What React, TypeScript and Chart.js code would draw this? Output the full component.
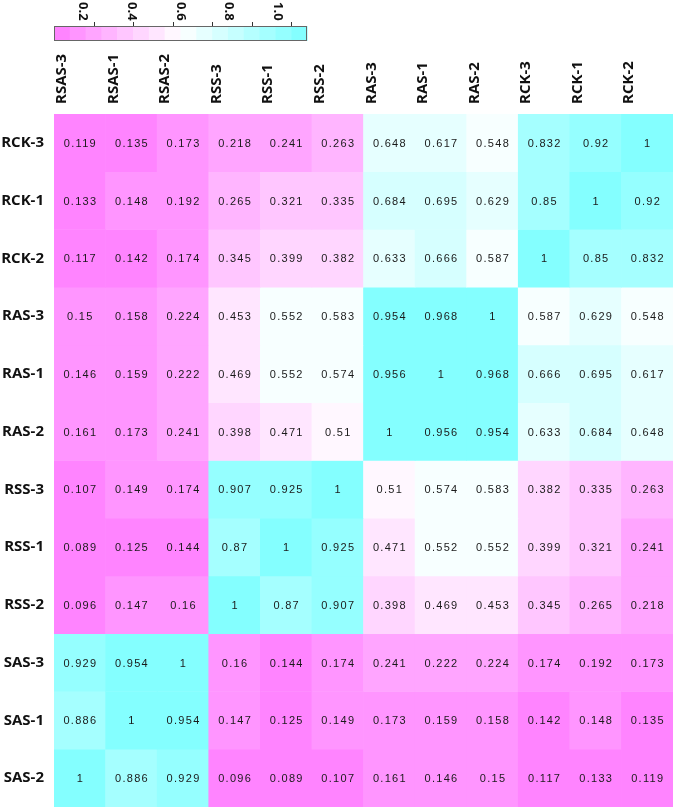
import React, { useEffect, useRef } from "react";
import { Chart, registerables } from "chart.js";
Chart.register(...registerables);

const columnLabels = ["RSAS-3", "RSAS-1", "RSAS-2", "RSS-3", "RSS-1", "RSS-2", "RAS-3", "RAS-1", "RAS-2", "RCK-3", "RCK-1", "RCK-2"];
const rowLabels = ["RCK-3", "RCK-1", "RCK-2", "RAS-3", "RAS-1", "RAS-2", "RSS-3", "RSS-1", "RSS-2", "SAS-3", "SAS-1", "SAS-2"];

const rowRCK3 = [0.119, 0.135, 0.173, 0.218, 0.241, 0.263, 0.648, 0.617, 0.548, 0.832, 0.92, 1];
const rowRCK1 = [0.133, 0.148, 0.192, 0.265, 0.321, 0.335, 0.684, 0.695, 0.629, 0.85, 1, 0.92];
const rowRCK2 = [0.117, 0.142, 0.174, 0.345, 0.399, 0.382, 0.633, 0.666, 0.587, 1, 0.85, 0.832];
const rowRAS3 = [0.15, 0.158, 0.224, 0.453, 0.552, 0.583, 0.954, 0.968, 1, 0.587, 0.629, 0.548];
const rowRAS1 = [0.146, 0.159, 0.222, 0.469, 0.552, 0.574, 0.956, 1, 0.968, 0.666, 0.695, 0.617];
const rowRAS2 = [0.161, 0.173, 0.241, 0.398, 0.471, 0.51, 1, 0.956, 0.954, 0.633, 0.684, 0.648];
const rowRSS3 = [0.107, 0.149, 0.174, 0.907, 0.925, 1, 0.51, 0.574, 0.583, 0.382, 0.335, 0.263];
const rowRSS1 = [0.089, 0.125, 0.144, 0.87, 1, 0.925, 0.471, 0.552, 0.552, 0.399, 0.321, 0.241];
const rowRSS2 = [0.096, 0.147, 0.16, 1, 0.87, 0.907, 0.398, 0.469, 0.453, 0.345, 0.265, 0.218];
const rowSAS3 = [0.929, 0.954, 1, 0.16, 0.144, 0.174, 0.241, 0.222, 0.224, 0.174, 0.192, 0.173];
const rowSAS1 = [0.886, 1, 0.954, 0.147, 0.125, 0.149, 0.173, 0.159, 0.158, 0.142, 0.148, 0.135];
const rowSAS2 = [1, 0.886, 0.929, 0.096, 0.089, 0.107, 0.161, 0.146, 0.15, 0.117, 0.133, 0.119];

const matrix = [rowRCK3, rowRCK1, rowRCK2, rowRAS3, rowRAS1, rowRAS2, rowRSS3, rowRSS1, rowRSS2, rowSAS3, rowSAS1, rowSAS2];

const colorbarTickLabels = ["0.2", "0.4", "0.6", "0.8", "1.0"];
const colorbarTickValues = [0.2, 0.4, 0.6, 0.8, 1.0];
const colorMin = 0.089;
const colorMax = 1;
const colorBins = 16;
const colorbarLabelMin = 0.08;
const colorbarLabelMax = 1.12;

function binColor(bin: number): string {
  const tc = (bin + 0.5) / colorBins;
  if (tc < 0.5) {
    const g = Math.round(124 + 262 * tc);
    return `rgb(255,${g},255)`;
  }
  const r = Math.round(255 - 262 * (tc - 0.5));
  return `rgb(${r},255,255)`;
}

function colorFor(v: number): string {
  let t = (v - colorMin) / (colorMax - colorMin);
  t = Math.max(0, Math.min(1, t));
  const bin = Math.min(colorBins - 1, Math.floor(t * colorBins));
  return binColor(bin);
}

const cellLabelPlugin = {
  id: "cellLabels",
  afterDatasetsDraw(chart: any) {
    const ctx = chart.ctx;
    ctx.save();
    ctx.font = "11px 'Liberation Sans', Arial, sans-serif";
    (ctx as any).letterSpacing = "1.3px";
    ctx.fillStyle = "#1a1a1a";
    ctx.textAlign = "center";
    ctx.textBaseline = "middle";
    chart.data.datasets.forEach((ds: any, i: number) => {
      const meta = chart.getDatasetMeta(i);
      meta.data.forEach((bar: any, j: number) => {
        const p = bar.getCenterPoint();
        ctx.fillText(String(matrix[i][j]), p.x + 0.6, p.y + 1);
      });
    });
    ctx.restore();
  },
};

const colorbarPlugin = {
  id: "colorbar",
  afterDraw(chart: any) {
    const ctx = chart.ctx;
    const left = chart.chartArea.left;
    const width = 253;
    const top = 26;
    const height = 15;
    ctx.save();
    const bw = width / colorBins;
    for (let b = 0; b < colorBins; b++) {
      ctx.fillStyle = binColor(b);
      ctx.fillRect(left + b * bw, top, bw + 0.5, height);
    }
    ctx.strokeStyle = "#666";
    ctx.lineWidth = 1;
    ctx.strokeRect(left + 0.5, top + 0.5, width - 1, height - 1);
    ctx.strokeStyle = "#333";
    for (let k = 1; k <= 6; k++) {
      const x = Math.round(left + k * 2.5 * bw) + 0.5;
      ctx.beginPath();
      ctx.moveTo(x, top - 4);
      ctx.lineTo(x, top);
      ctx.stroke();
    }
    ctx.fillStyle = "#111";
    ctx.font = "bold 13px 'Open Sans', Arial, sans-serif";
    ctx.textAlign = "left";
    ctx.textBaseline = "middle";
    colorbarTickValues.forEach((v, i) => {
      const x = left + ((v - colorbarLabelMin) / (colorbarLabelMax - colorbarLabelMin)) * width;
      ctx.save();
      ctx.translate(x, 2);
      ctx.rotate(Math.PI / 2);
      ctx.fillText(colorbarTickLabels[i], 0, 0);
      ctx.restore();
    });
    ctx.restore();
  },
};

export default function App() {
  const canvasRef = useRef<HTMLCanvasElement | null>(null);

  useEffect(() => {
    if (!canvasRef.current) return;
    const datasets = matrix.map((row, i) => ({
      label: rowLabels[i],
      data: row.map(() => [i, i + 1]),
      backgroundColor: row.map((v) => colorFor(v)),
      borderWidth: 0,
      barPercentage: 1,
      categoryPercentage: 1,
    }));
    const chart = new Chart(canvasRef.current, {
      type: "bar",
      data: { labels: columnLabels, datasets: datasets as any },
      plugins: [cellLabelPlugin, colorbarPlugin],
      options: {
        animation: false,
        responsive: true,
        maintainAspectRatio: false,
        layout: { padding: { left: 0, top: 0, right: 2, bottom: 2 } },
        plugins: { legend: { display: false }, tooltip: { enabled: false } },
        scales: {
          x: {
            type: "category",
            position: "top",
            stacked: true,
            offset: true,
            grid: { display: false, drawTicks: false },
            border: { display: false },
            ticks: {
              autoSkip: false,
              minRotation: 90,
              maxRotation: 90,
              padding: 10,
              color: "#111",
              font: { family: "'Open Sans', sans-serif", size: 15, weight: "bold" },
            },
            afterFit: (axis: any) => {
              axis.height = 114;
              axis.paddingLeft = 0;
              axis.paddingRight = 0;
              axis.paddingTop = 0;
              axis.paddingBottom = 0;
            },
          },
          y: {
            type: "linear",
            stacked: false,
            reverse: true,
            min: 0,
            max: rowLabels.length,
            grid: { display: false, drawTicks: false },
            border: { display: false },
            afterBuildTicks: (axis: any) => {
              axis.ticks = rowLabels.map((_, i) => ({ value: i + 0.5 }));
            },
            ticks: {
              autoSkip: false,
              padding: 10,
              color: "#111",
              font: { family: "'Open Sans', sans-serif", size: 15, weight: "bold" },
              callback: (value: any) => rowLabels[Math.floor(Number(value))] ?? "",
            },
            afterFit: (axis: any) => {
              axis.width = 54;
              axis.paddingLeft = 0;
              axis.paddingRight = 0;
              axis.paddingTop = 0;
              axis.paddingBottom = 0;
            },
          },
        },
      },
    });
    return () => chart.destroy();
  }, []);

  return (
    <div style={{ position: "fixed", left: 0, top: 0, width: 675, height: 809, background: "#fff" }}>
      <canvas ref={canvasRef} />
    </div>
  );
}
